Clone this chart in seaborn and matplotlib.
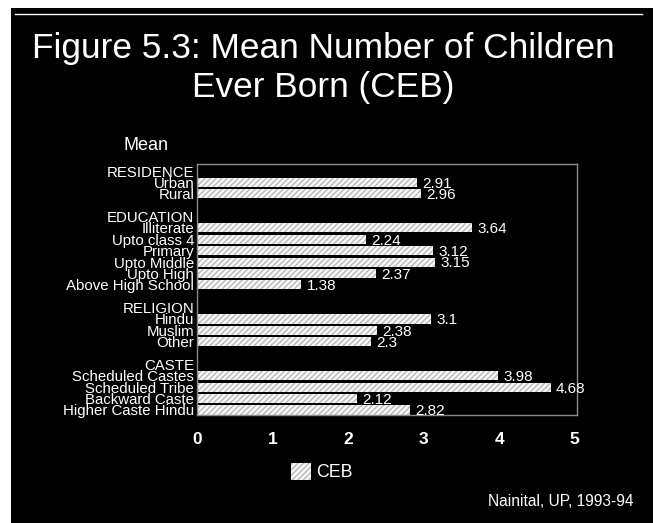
import numpy as np
import pandas as pd
import matplotlib
matplotlib.use("Agg")
import matplotlib.pyplot as plt
from matplotlib.patches import Patch, Rectangle
from matplotlib.lines import Line2D
import seaborn as sns

# Row layout: group headers, categories and spacer rows
row_labels = [
    "RESIDENCE", "Urban", "Rural", " ",
    "EDUCATION", "Illiterate", "Upto class 4", "Primary", "Upto Middle",
    "Upto High", "Above High School", "  ",
    "RELIGION", "Hindu", "Muslim", "Other", "   ",
    "CASTE", "Scheduled Castes", "Scheduled Tribe", "Backward Caste",
    "Higher Caste Hindu",
]
categories = ["Urban", "Rural",
              "Illiterate", "Upto class 4", "Primary", "Upto Middle",
              "Upto High", "Above High School",
              "Hindu", "Muslim", "Other",
              "Scheduled Castes", "Scheduled Tribe", "Backward Caste",
              "Higher Caste Hindu"]
ceb_values = [2.91, 2.96,
              3.64, 2.24, 3.12, 3.15, 2.37, 1.38,
              3.1, 2.38, 2.3,
              3.98, 4.68, 2.12, 2.82]
value_labels = ["2.91", "2.96",
                "3.64", "2.24", "3.12", "3.15", "2.37", "1.38",
                "3.1", "2.38", "2.3",
                "3.98", "4.68", "2.12", "2.82"]
x_ticks = [0, 1, 2, 3, 4, 5]

FONT = ["Liberation Sans", "DejaVu Sans"]
plt.rcParams["font.family"] = FONT
plt.rcParams["hatch.linewidth"] = 0.9

BAR_FACE = "#f6f6f6"
BAR_HATCH = "#b4b4b4"

df = pd.DataFrame({"row": categories, "CEB": ceb_values})

fig = plt.figure(figsize=(6.53, 5.23), dpi=100, facecolor="black")
ax = fig.add_axes([197 / 653, 1 - 415 / 523, 380 / 653, 251 / 523])
ax.set_facecolor("black")

sns.barplot(data=df, x="CEB", y="row", order=row_labels, orient="h",
            color=BAR_FACE, saturation=1, width=0.8, hatch="//////",
            edgecolor=BAR_HATCH, linewidth=0, errorbar=None, ax=ax)

pos = {name: i for i, name in enumerate(row_labels)}
for cat, v, lab in zip(categories, ceb_values, value_labels):
    ax.text(v + 0.07, pos[cat] + 0.12, lab, color="white", fontsize=11,
            va="center", ha="left", family=FONT)

ax.set_xlim(0, 5.03)
ax.set_ylim(len(row_labels) - 1 + 0.44, -0.62)
ax.set_xticks(x_ticks)
ax.set_xticklabels([str(t) for t in x_ticks], color="white",
                   fontsize=12.5, fontweight="bold")
ax.tick_params(axis="x", length=0, pad=12)
ax.tick_params(axis="y", length=0, pad=2)
ax.set_yticks(range(len(row_labels)))
ax.set_yticklabels(row_labels, color="white", fontsize=10.8)
ax.set_xlabel("")
ax.set_ylabel("")
for sp in ax.spines.values():
    sp.set_color("#8a8a8a")
    sp.set_linewidth(1)

# Title and annotations
fig.text(0.495, 1 - 68 / 523, "Figure 5.3: Mean Number of Children\nEver Born (CEB)",
         color="white", fontsize=25.4, ha="center", va="center",
         linespacing=1.2)
fig.text(146 / 653, 1 - 146 / 523, "Mean", color="white", fontsize=13,
         ha="center", va="center")
fig.text(633 / 653, 1 - 502 / 523, "Nainital, UP, 1993-94", color="white",
         fontsize=11.2, ha="right", va="center")

handle = Patch(facecolor=BAR_FACE, edgecolor=BAR_HATCH, hatch="//////",
               linewidth=0)
leg = fig.legend(handles=[handle], labels=["CEB"], loc="center",
                 bbox_to_anchor=(322 / 653, 1 - 472 / 523), frameon=False,
                 handlelength=1.1, handleheight=1.1, handletextpad=0.3,
                 fontsize=12.8)
for t in leg.get_texts():
    t.set_color("white")

# Page frame
fig.add_artist(Rectangle((0, 1 - 8 / 523), 1, 8 / 523, transform=fig.transFigure,
                         facecolor="white", edgecolor="none"))
fig.add_artist(Rectangle((0, 0), 11 / 653, 1, transform=fig.transFigure,
                         facecolor="white", edgecolor="none"))
fig.add_artist(Line2D([15 / 653, 642 / 653], [1 - 13.5 / 523] * 2,
                      transform=fig.transFigure, color="white", lw=1))

fig.savefig("out.png", dpi=100, facecolor="black")
